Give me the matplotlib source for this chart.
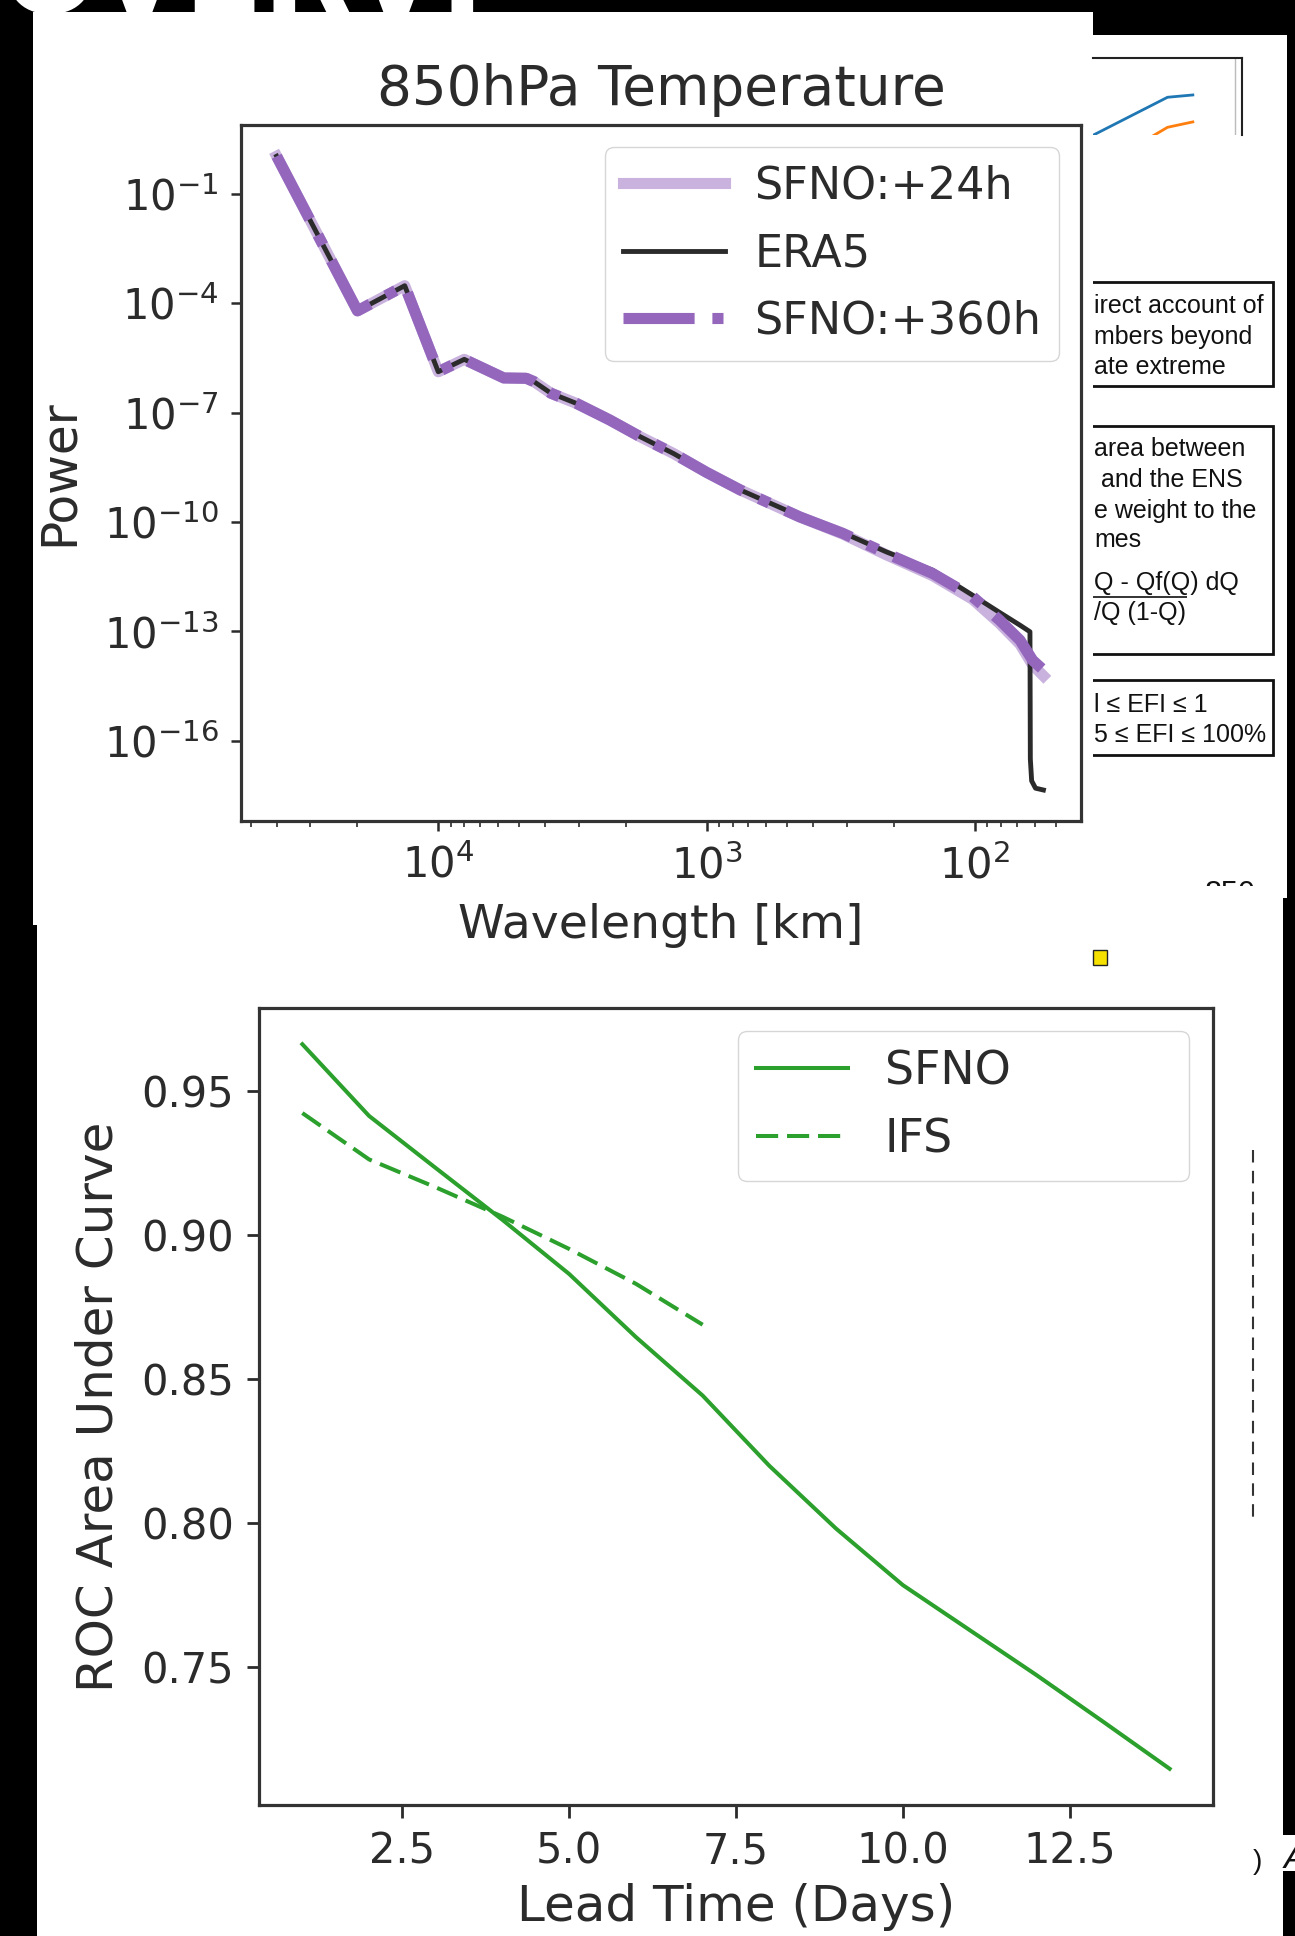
import numpy as np
import matplotlib.pyplot as plt
from matplotlib.patches import Rectangle
from matplotlib.ticker import NullLocator

# --- 850hPa temperature power spectra (log10 of power) ---
wavelength_km = [40000, 20000, 13333, 10000, 8000, 5700, 4700, 4400, 3800, 3050,
                 2300, 1770, 1330, 1000, 750, 450, 311, 214, 144, 102,
                 81, 68, 61, 55.6]
sfno_360h_log10 = [0.03, -4.21, -3.52, -5.88, -5.54, -6.05, -6.06, -6.15, -6.47, -6.75,
                   -7.20, -7.66, -8.12, -8.64, -9.12, -9.86, -10.31, -10.86, -11.41, -12.05,
                   -12.69, -13.24, -13.79, -14.06]
sfno_24h_log10 = [0.03, -4.21, -3.52, -5.88, -5.54, -6.05, -6.06, -6.15, -6.47, -6.75,
                  -7.20, -7.66, -8.12, -8.64, -9.12, -9.86, -10.33, -10.90, -11.47, -12.12,
                  -12.78, -13.35, -13.92, -14.22]
era5_wavelength_km = [40000, 20000, 13333, 10000, 8000, 5700, 4700, 4400, 3800, 3050,
                      2300, 1770, 1330, 1000, 750, 450, 311, 214, 144, 102,
                      81, 68, 62.4, 62.2, 61.5, 59.5, 55.6]
era5_log10 = [0.03, -4.21, -3.52, -5.88, -5.54, -6.05, -6.06, -6.15, -6.47, -6.75,
              -7.20, -7.66, -8.12, -8.64, -9.12, -9.84, -10.29, -10.82, -11.32, -12.01,
              -12.48, -12.83, -13.01, -16.5, -17.1, -17.3, -17.35]
power_ticks = [1e-1, 1e-4, 1e-7, 1e-10, 1e-13, 1e-16]

# --- ROC area under curve vs lead time ---
lead_days = [1, 2, 3, 4, 5, 6, 7, 8, 9, 10, 11, 12, 13, 14]
sfno_auc = [0.9662, 0.9413, 0.9232, 0.9052, 0.8864, 0.8645, 0.8442, 0.8198, 0.7980, 0.7784,
            0.7628, 0.7472, 0.7310, 0.7146]
ifs_days = [1, 2, 3, 4, 5, 6, 7]
ifs_auc = [0.9423, 0.9262, 0.9165, 0.9063, 0.8951, 0.8830, 0.8688]

# --- bit of a neighbouring chart peeking out at the top right ---
frag_blue_x = [-0.25, 0.5, 0.67]
frag_blue_y = [-0.25, 0.49, 0.52]
frag_orange_x = [0.15, 0.5, 0.67]
frag_orange_y = [-0.3, 0.10, 0.17]

W, H = 1295, 1936
TXT = '#2b2b2b'
fig = plt.figure(figsize=(W / 100, H / 100), dpi=100, facecolor='black')

# background canvas in pixel coordinates
bg = fig.add_axes([0, 0, 1, 1])
bg.set_xlim(0, W)
bg.set_ylim(H, 0)
bg.axis('off')

bg.text(0, 12, 'OVERVI', color='white', fontsize=83, fontweight='bold', va='baseline', zorder=1)

# right-hand panel with text boxes (partly covered)
bg.add_patch(Rectangle((1093, 35), 194, 863, fc='white', ec='none', zorder=2))
arial = ['Liberation Sans', 'DejaVu Sans']
for y0, h in [(282, 104), (426, 228), (680, 75)]:
    bg.add_patch(Rectangle((1000, y0), 273, h, fill=False, ec='#111111', lw=2, zorder=3))
box_lines = [(306, 'irect account of'), (337, 'mbers beyond'), (367, 'ate extreme'),
             (449, 'area between'), (480, ' and the ENS'), (511, 'e weight to the'),
             (540, 'mes'), (583, 'Q - Qf(Q) dQ'), (613, '/Q (1-Q)'),
             (705, 'l ≤ EFI ≤ 1'), (735, '5 ≤ EFI ≤ 100%')]
for y, s in box_lines:
    bg.text(1094, y, s, family=arial, fontsize=18, color='#111111', va='center', ha='left', zorder=3)
bg.hlines(597, 1000, 1187, color='#111111', lw=1.2, zorder=3)
bg.text(1205, 880, '850', family=arial, fontsize=22, color='#111111', va='top', zorder=3)

# main white panels
bg.add_patch(Rectangle((33, 12), 1060, 913, fc='white', ec='none', zorder=4))
bg.add_patch(Rectangle((37, 886), 1246, 1050, fc='white', ec='none', zorder=4))
bg.add_patch(Rectangle((1093, 950), 14, 15, fc='#f5e000', ec='#222222', lw=1, zorder=5))
bg.vlines(1253, 1150, 1517, color='#333333', lw=1.5, linestyles=(0, (6, 4)), zorder=5)
bg.text(1253, 1862, ')', family=arial, fontsize=20, color='#111111', va='center', zorder=5)
bg.add_patch(Rectangle((1283, 1835), 12, 36, fc='white', ec='none', zorder=5))
bg.text(1284, 1860, 'A', family=arial, fontsize=24, fontstyle='italic', color='#111111',
        va='center', zorder=6)

# neighbouring chart fragment
fr = fig.add_axes([1093 / W, 1 - 135 / H, 149 / W, 77 / H], zorder=3)
fr.set_facecolor('none')
fr.plot(frag_blue_x, frag_blue_y, color='#1f77b4', lw=2)
fr.plot(frag_orange_x, frag_orange_y, color='#ff7f0e', lw=2)
fr.axvline(0.953, color='#bbbbbb', lw=1)
fr.set_xlim(0, 1)
fr.set_ylim(0, 1)
fr.set_xticks([])
fr.set_yticks([])
for side in ['left', 'bottom']:
    fr.spines[side].set_visible(False)
for side in ['top', 'right']:
    fr.spines[side].set_color('#222222')
    fr.spines[side].set_linewidth(1.5)

# ---------------- chart 1: spectra ----------------
ax1 = fig.add_axes([241 / W, 1 - 821 / H, 840 / W, 696 / H], zorder=6)
ax1.plot(wavelength_km, 10 ** np.array(sfno_24h_log10), color='#9467bd', alpha=0.5, lw=8,
         label='SFNO:+24h')
ax1.plot(era5_wavelength_km, 10 ** np.array(era5_log10), color='#2b2b2b', lw=3.5, label='ERA5')
ax1.plot(wavelength_km, 10 ** np.array(sfno_360h_log10), color='#9467bd', lw=8, ls='-.',
         label='SFNO:+360h')
ax1.set_xscale('log')
ax1.set_yscale('log')
ax1.set_xlim(10 ** 4.735, 10 ** 1.605)
ax1.set_ylim(10 ** -18.2, 10 ** 0.887)
ax1.set_yticks(power_ticks)
ax1.yaxis.set_minor_locator(NullLocator())
ax1.tick_params(which='major', length=7, width=1.8, labelsize=30, colors=TXT)
ax1.tick_params(axis='y', which='major', pad=9)
ax1.tick_params(axis='x', which='major', pad=10)
ax1.tick_params(which='minor', length=4, width=1.2, colors=TXT)
for sp in ax1.spines.values():
    sp.set_color('#333333')
    sp.set_linewidth(2.3)
ax1.set_title('850hPa Temperature', fontsize=39.5, color=TXT, y=(821 - 90) / 696, pad=0,
              va='center')
ax1.set_xlabel('Wavelength [km]', fontsize=34, color=TXT, va='center')
ax1.xaxis.set_label_coords(0.5, (821 - 926) / 696)
ax1.set_ylabel('Power', fontsize=35, color=TXT, va='center')
ax1.yaxis.set_label_coords((59 - 241) / 840, 0.5)
leg1 = ax1.legend(fontsize=32, loc='upper right', handlelength=2.3, labelspacing=0.55,
                  handletextpad=0.65)
for t in leg1.get_texts():
    t.set_color(TXT)

# ---------------- chart 2: ROC AUC ----------------
ax2 = fig.add_axes([259 / W, 1 - 1805 / H, 954 / W, 797 / H], zorder=6)
ax2.plot(lead_days, sfno_auc, color='#2ca02c', lw=2.9, label='SFNO')
ax2.plot(ifs_days, ifs_auc, color='#2ca02c', lw=2.9, ls=(0, (5.5, 2.2)), label='IFS')
ax2.set_yticks([0.75, 0.80, 0.85, 0.90, 0.95])
ax2.set_xticks([2.5, 5.0, 7.5, 10.0, 12.5])
ax2.tick_params(length=9, width=2, pad=9, labelsize=30, colors=TXT)
for sp in ax2.spines.values():
    sp.set_color('#333333')
    sp.set_linewidth(2.3)
ax2.set_xlabel('Lead Time (Days)', fontsize=36, color=TXT, va='center')
ax2.xaxis.set_label_coords(0.5, (1805 - 1907) / 797)
ax2.set_ylabel('ROC Area Under Curve', fontsize=36, color=TXT, va='center')
ax2.yaxis.set_label_coords((99 - 259) / 954, 0.5)
leg2 = ax2.legend(fontsize=33, loc='upper left', mode='expand', borderaxespad=0,
                  bbox_to_anchor=(0.502, 0, 0.473, 0.971))
for t in leg2.get_texts():
    t.set_color(TXT)

fig.savefig('out.png', dpi=100, facecolor='black')
